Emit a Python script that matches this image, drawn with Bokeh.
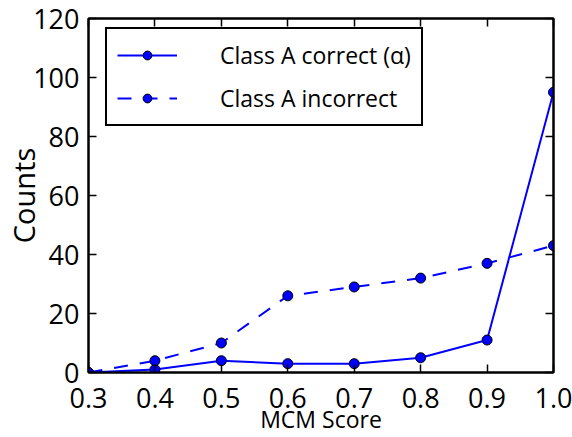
from bokeh.plotting import figure
from bokeh.models import LinearAxis, FixedTicker, Range1d, Legend, LegendItem
from bokeh.embed import file_html
from bokeh.resources import INLINE

scores = [0.3, 0.4, 0.5, 0.6, 0.7, 0.8, 0.9, 1.0]
correct = [0, 1, 4, 3, 3, 5, 11, 95]
incorrect = [0, 4, 10, 26, 29, 32, 37, 43]
x_ticks = [0.3, 0.4, 0.5, 0.6, 0.7, 0.8, 0.9, 1.0]
x_tick_labels = ["0.3", "0.4", "0.5", "0.6", "0.7", "0.8", "0.9", "1.0"]
y_ticks = [0, 20, 40, 60, 80, 100, 120]

FONT = "Open Sans"
BLUE = "#0000ff"

p = figure(width=572, height=437, output_backend="svg", toolbar_location=None,
           x_range=Range1d(0.3, 1.0), y_range=Range1d(0, 120),
           x_axis_location=None, y_axis_location=None,
           min_border_left=88, min_border_right=19, min_border_top=18, min_border_bottom=65)
p.grid.visible = False
p.outline_line_color = "black"
p.outline_line_width = 2
p.outline_line_alpha = 1
p.background_fill_color = "white"
p.border_fill_color = "white"

def make_axis(labels=True):
    a = LinearAxis()
    a.axis_line_width = 2
    a.axis_line_color = "black"
    a.major_tick_in = 8
    a.major_tick_out = 0
    a.major_tick_line_width = 1.5
    a.minor_tick_line_color = None
    a.major_label_text_font = FONT
    a.major_label_text_font_size = "27px"
    a.major_label_text_color = "black"
    a.axis_label_text_font = FONT
    a.axis_label_text_font_style = "normal"
    a.axis_label_text_color = "black"
    if not labels:
        a.major_label_text_font_size = "0px"
        a.major_label_standoff = 0
    return a

xb = make_axis()
xb.ticker = FixedTicker(ticks=x_ticks)
xb.major_label_overrides = {t: l for t, l in zip(x_ticks, x_tick_labels)}
xb.major_label_standoff = 15
xb.axis_label = "MCM Score"
xb.axis_label_text_font_size = "23px"
xb.axis_label_standoff = -8
p.add_layout(xb, "below")

xt = make_axis(False)
xt.ticker = FixedTicker(ticks=x_ticks)
p.add_layout(xt, "above")

yl = make_axis()
yl.ticker = FixedTicker(ticks=y_ticks)
yl.major_label_standoff = 9
yl.axis_label = "Counts"
yl.axis_label_text_font_size = "29px"
yl.axis_label_standoff = -13
p.add_layout(yl, "left")

yr = make_axis(False)
yr.ticker = FixedTicker(ticks=y_ticks)
p.add_layout(yr, "right")

l1 = p.line(scores, correct, line_color=BLUE, line_width=2)
s1 = p.scatter(scores, correct, size=10, fill_color=BLUE, line_color="black", line_width=1)
l2 = p.line(scores, incorrect, line_color=BLUE, line_width=2, line_dash="14 12")
s2 = p.scatter(scores, incorrect, size=10, fill_color=BLUE, line_color="black", line_width=1)

legend = Legend(items=[
    LegendItem(label="Class A correct (α)", renderers=[l1, s1]),
    LegendItem(label="Class A incorrect", renderers=[l2, s2]),
])
legend.location = (17, 246)
legend.margin = 0
legend.padding = 10
legend.spacing = 11
legend.glyph_width = 60
legend.glyph_height = 22
legend.label_height = 22
legend.label_standoff = 43
legend.label_text_font = FONT
legend.label_text_font_size = "23px"
legend.label_text_color = "black"
legend.border_line_color = "black"
legend.border_line_alpha = 1
legend.border_line_width = 2
legend.background_fill_color = "white"
legend.background_fill_alpha = 1
p.add_layout(legend, "center")

open("out.html", "w").write(file_html(p, INLINE))
